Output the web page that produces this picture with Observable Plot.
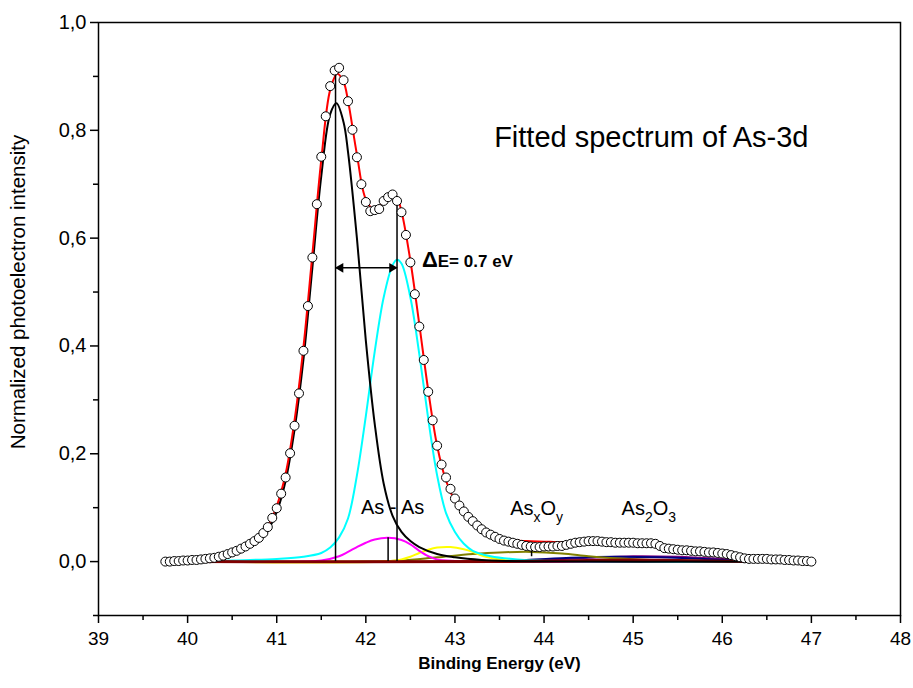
<!DOCTYPE html>
<html>
<head>
<meta charset="utf-8">
<script src="https://cdn.jsdelivr.net/npm/d3@7"></script>
<script src="https://cdn.jsdelivr.net/npm/@observablehq/plot@0.6"></script>
<style>
  html, body { margin: 0; padding: 0; background: white; }
  #chart { width: 913px; height: 688px; }
</style>
</head>
<body>
<div id="chart"></div>
<script>
// ---- measured spectrum (open circles) ----
const energy = [39.75,39.80,39.85,39.90,39.95,40.00,40.05,40.10,40.15,40.20,40.25,40.30,40.35,40.40,40.45,40.50,40.55,40.60,40.65,40.70,40.75,40.80,40.85,40.90,40.95,41.00,41.05,41.10,41.15,41.20,41.25,41.30,41.35,41.40,41.45,41.50,41.55,41.60,41.65,41.70,41.75,41.80,41.85,41.90,41.95,42.00,42.05,42.10,42.15,42.20,42.25,42.30,42.35,42.40,42.45,42.50,42.55,42.60,42.65,42.70,42.75,42.80,42.85,42.90,42.95,43.00,43.05,43.10,43.15,43.20,43.25,43.30,43.35,43.40,43.45,43.50,43.55,43.60,43.65,43.70,43.75,43.80,43.85,43.90,43.95,44.00,44.05,44.10,44.15,44.20,44.25,44.30,44.35,44.40,44.45,44.50,44.55,44.60,44.65,44.70,44.75,44.80,44.85,44.90,44.95,45.00,45.05,45.10,45.15,45.20,45.25,45.30,45.35,45.40,45.45,45.50,45.55,45.60,45.65,45.70,45.75,45.80,45.85,45.90,45.95,46.00,46.05,46.10,46.15,46.20,46.25,46.30,46.35,46.40,46.45,46.50,46.55,46.60,46.65,46.70,46.75,46.80,46.85,46.90,46.95,47.00];
const intensity = [0.000,0.000,0.001,0.001,0.002,0.002,0.003,0.003,0.004,0.005,0.006,0.007,0.009,0.011,0.014,0.017,0.020,0.024,0.028,0.033,0.038,0.044,0.053,0.064,0.081,0.099,0.126,0.156,0.201,0.252,0.312,0.391,0.474,0.564,0.663,0.751,0.826,0.882,0.911,0.916,0.893,0.854,0.801,0.750,0.700,0.667,0.650,0.652,0.654,0.669,0.676,0.681,0.669,0.648,0.606,0.555,0.496,0.436,0.374,0.315,0.262,0.215,0.180,0.156,0.135,0.117,0.104,0.093,0.083,0.075,0.067,0.060,0.054,0.050,0.046,0.042,0.039,0.037,0.035,0.033,0.031,0.029,0.028,0.027,0.027,0.028,0.028,0.028,0.029,0.029,0.031,0.033,0.035,0.036,0.037,0.038,0.038,0.038,0.037,0.036,0.036,0.035,0.035,0.035,0.035,0.035,0.034,0.034,0.034,0.034,0.033,0.029,0.025,0.024,0.023,0.022,0.021,0.021,0.020,0.019,0.019,0.018,0.017,0.017,0.016,0.015,0.014,0.012,0.010,0.008,0.006,0.005,0.005,0.005,0.005,0.005,0.004,0.004,0.004,0.003,0.003,0.002,0.002,0.001,0.001,0.000];

// ---- fitted envelope (red) ----
const envX = [39.75,40.00,40.20,40.40,40.60,40.80,40.90,41.00,41.10,41.20,41.30,41.40,41.50,41.60,41.68,41.75,41.80,41.90,42.00,42.10,42.20,42.30,42.35,42.40,42.50,42.60,42.70,42.80,42.90,43.00,43.10,43.20,43.30,43.40,43.50,43.60,43.80,44.00,44.20,44.40,44.60,44.80,45.00,45.30,45.60,45.90,46.20,46.50,47.00];
const envY = [0.002,0.003,0.005,0.010,0.024,0.046,0.066,0.103,0.163,0.262,0.398,0.570,0.745,0.875,0.905,0.890,0.855,0.755,0.672,0.652,0.668,0.681,0.675,0.650,0.558,0.440,0.318,0.215,0.150,0.112,0.088,0.070,0.057,0.048,0.043,0.040,0.038,0.037,0.036,0.036,0.035,0.034,0.032,0.028,0.022,0.016,0.008,0.004,0.001];

// ---- fitted components ----
const blackX = [40.10,40.20,40.40,40.60,40.80,40.90,41.00,41.10,41.20,41.30,41.40,41.50,41.60,41.67,41.75,41.80,41.90,42.00,42.10,42.20,42.30,42.40,42.50,42.60,42.80,43.00,43.30,43.60,44.00,46.30];
const blackY = [0.001,0.002,0.007,0.020,0.040,0.058,0.092,0.150,0.245,0.375,0.545,0.715,0.830,0.850,0.815,0.760,0.600,0.410,0.255,0.145,0.085,0.055,0.038,0.027,0.014,0.008,0.003,0.001,0.000,0.000];
const cyanX = [40.10,40.50,41.00,41.30,41.50,41.60,41.70,41.80,41.90,42.00,42.10,42.20,42.30,42.35,42.40,42.50,42.60,42.70,42.80,42.90,43.00,43.10,43.20,43.40,43.70,44.20,45.00,46.30];
const cyanY = [0.000,0.002,0.005,0.009,0.016,0.026,0.045,0.080,0.160,0.270,0.390,0.490,0.550,0.560,0.553,0.490,0.385,0.265,0.160,0.090,0.055,0.033,0.020,0.010,0.004,0.001,0.000,0.000];
const magentaX = [40.10,41.30,41.50,41.70,41.80,41.90,42.00,42.10,42.25,42.40,42.50,42.60,42.70,42.80,43.00,43.20,46.30];
const magentaY = [0.000,0.000,0.002,0.010,0.018,0.027,0.035,0.041,0.044,0.040,0.032,0.020,0.010,0.004,0.001,0.000,0.000];
const yellowX = [40.10,42.20,42.40,42.50,42.60,42.70,42.80,42.95,43.10,43.20,43.30,43.40,43.50,43.70,44.00,46.30];
const yellowY = [0.000,0.000,0.004,0.009,0.016,0.022,0.026,0.027,0.023,0.018,0.011,0.007,0.004,0.001,0.000,0.000];
const oliveX = [40.10,42.00,42.40,42.80,43.20,43.50,43.86,44.20,44.50,44.80,45.20,45.60,46.00,46.30];
const oliveY = [0.000,0.000,0.002,0.008,0.014,0.017,0.018,0.015,0.010,0.006,0.003,0.001,0.000,0.000];
const navyX = [40.10,43.30,43.80,44.30,44.80,45.30,45.80,46.30];
const navyY = [0.000,0.000,0.003,0.007,0.009,0.008,0.005,0.000];
const purpleX = [40.10,43.50,44.00,44.50,45.00,45.50,46.00,46.30];
const purpleY = [0.000,0.000,0.003,0.007,0.010,0.009,0.005,0.002];
const yellow2X = [40.10,44.00,44.50,45.00,45.50,46.00,46.30];
const yellow2Y = [0.000,0.000,0.001,0.002,0.002,0.001,0.000];
const darkredX = [40.10,43.50,44.50,45.00,45.50,46.30];
const darkredY = [0.000,0.000,0.002,0.003,0.002,0.000];

// ---- guide lines ----
const peakLineX = [41.66, 42.35, 42.25];
const peakLineTop = [0.905, 0.672, 0.044];
const markX = [43.86];
const markLow = [0.009];
const markHigh = [0.022];
const arrowX1 = [41.66];
const arrowX2 = [42.35];
const arrowY = [0.545];

// ---- axes ----
const xMajor = [39,40,41,42,43,44,45,46,47,48];
const xMinor = [39.5,40.5,41.5,42.5,43.5,44.5,45.5,46.5,47.5];
const yMajor = [0.0,0.2,0.4,0.6,0.8,1.0];
const yMinor = [-0.1,0.1,0.3,0.5,0.7,0.9];

// ---- texts ----
const labelTexts = ["Fitted spectrum of As-3d", "ΔE= 0.7 eV", "As - As", "AsxOy", "As2O3"];
const labelX = [43.44, 42.63, 42.30, 43.62, 44.87];
const labelY = [0.787, 0.556, 0.100, 0.098, 0.098];

const toRows = (xs, ys) => xs.map((x, i) => ({x, y: ys[i]}));
const font = "Liberation Sans, Arial, Helvetica, sans-serif";

const comps = [
  {xs: yellow2X, ys: yellow2Y, c: "#ffff00", w: 2},
  {xs: purpleX, ys: purpleY, c: "#800080", w: 2},
  {xs: navyX, ys: navyY, c: "#000080", w: 2},
  {xs: oliveX, ys: oliveY, c: "#808000", w: 2},
  {xs: yellowX, ys: yellowY, c: "#ffff00", w: 2},
  {xs: magentaX, ys: magentaY, c: "#ff00ff", w: 2},
  {xs: cyanX, ys: cyanY, c: "#00ffff", w: 2},
  {xs: darkredX, ys: darkredY, c: "#800000", w: 3},
  {xs: blackX, ys: blackY, c: "#000000", w: 2}
];

const spectrum = toRows(energy, intensity);
const envelope = toRows(envX, envY);
const labels = labelTexts.map((t, i) => ({t, x: labelX[i], y: labelY[i]}));

const marks = [
  ...comps.map(k => Plot.line(toRows(k.xs, k.ys), {x: "x", y: "y", stroke: k.c, strokeWidth: k.w, curve: "catmull-rom"})),
  Plot.line(envelope, {x: "x", y: "y", stroke: "#ff0000", strokeWidth: 2, curve: "catmull-rom"}),
  Plot.ruleX(peakLineX, {x: d => d, y1: 0, y2: (d, i) => peakLineTop[i], stroke: "black", strokeWidth: 1.5}),
  Plot.ruleX(markX, {x: d => d, y1: (d, i) => markLow[i], y2: (d, i) => markHigh[i], stroke: "black", strokeWidth: 1.5}),
  Plot.ruleY(arrowY, {y: d => d, x1: (d, i) => arrowX1[i], x2: (d, i) => arrowX2[i], stroke: "black", strokeWidth: 1.5}),
  Plot.dot(arrowY, {x: (d, i) => arrowX1[i], y: d => d, symbol: "triangle", rotate: -90, r: 3.6, fill: "black", stroke: "none", dx: 5}),
  Plot.dot(arrowY, {x: (d, i) => arrowX2[i], y: d => d, symbol: "triangle", rotate: 90, r: 3.6, fill: "black", stroke: "none", dx: -5}),
  Plot.dot(spectrum, {x: "x", y: "y", r: 4.5, fill: "white", stroke: "black", strokeWidth: 1}),
  Plot.text(labels.slice(0, 1), {x: "x", y: "y", text: "t", textAnchor: "start", fontSize: 29, fontFamily: font, fill: "black"}),
  Plot.text(labels.slice(1, 2), {x: "x", y: "y", text: "t", textAnchor: "start", fontSize: 17, fontWeight: "bold", fontFamily: font, fill: "black"}),
  Plot.text(labels.slice(2, 3), {x: "x", y: "y", text: "t", textAnchor: "middle", fontSize: 20, fontFamily: font, fill: "black"}),
  Plot.text(labels.slice(3, 5), {x: "x", y: "y", text: "t", textAnchor: "start", fontSize: 20, fontFamily: font, fill: "black"}),
  Plot.frame({stroke: "black", strokeWidth: 1.5}),
  Plot.axisX(xMajor, {label: null, tickSize: 8, tickPadding: 8, tickFormat: d => String(d), fontSize: 19, fontFamily: font, stroke: "black", strokeWidth: 1.5}),
  Plot.axisX(xMinor, {label: null, tickSize: 5, tickFormat: () => "", stroke: "black", strokeWidth: 1.5}),
  Plot.axisY(yMajor, {label: null, tickSize: 8, tickPadding: 4, tickFormat: d => d.toFixed(1).replace(".", ","), fontSize: 20, fontFamily: font, stroke: "black", strokeWidth: 1.5}),
  Plot.axisY(yMinor, {label: null, tickSize: 5, tickFormat: () => "", stroke: "black", strokeWidth: 1.5}),
  Plot.text(["Binding Energy (eV)"], {frameAnchor: "bottom", dy: 53, text: d => d, fontSize: 17, fontWeight: "bold", fontFamily: font, fill: "black"}),
  Plot.text(["Normalized photoelectron intensity"], {y: () => 0.5, frameAnchor: "left", textAnchor: "middle", dx: -80, rotate: -90, text: d => d, fontSize: 20.5, fontFamily: font, fill: "black"})
];

const chart = Plot.plot({
  width: 913,
  height: 688,
  marginLeft: 98,
  marginRight: 13,
  marginTop: 22,
  marginBottom: 73,
  x: {domain: [39, 48], axis: null},
  y: {domain: [-0.1, 1.0], axis: null},
  style: {fontFamily: font, color: "black", background: "white", overflow: "visible"},
  marks
});

// typographic details: larger Δ, subscripts
d3.select(chart).selectAll("text").each(function () {
  const t = this.textContent;
  const el = d3.select(this);
  if (t === "ΔE= 0.7 eV") {
    el.text(null);
    el.append("tspan").attr("font-size", 22).text("Δ");
    el.append("tspan").text("E= 0.7 eV");
  } else if (t === "AsxOy" || t === "As2O3") {
    const a = t === "AsxOy" ? ["x", "y"] : ["2", "3"];
    el.text(null);
    el.append("tspan").text("As");
    el.append("tspan").attr("dy", 7).attr("font-size", 14).text(a[0]);
    el.append("tspan").attr("dy", -7).text("O");
    el.append("tspan").attr("dy", 7).attr("font-size", 14).text(a[1]);
  }
});

document.getElementById("chart").appendChild(chart);
</script>
</body>
</html>
